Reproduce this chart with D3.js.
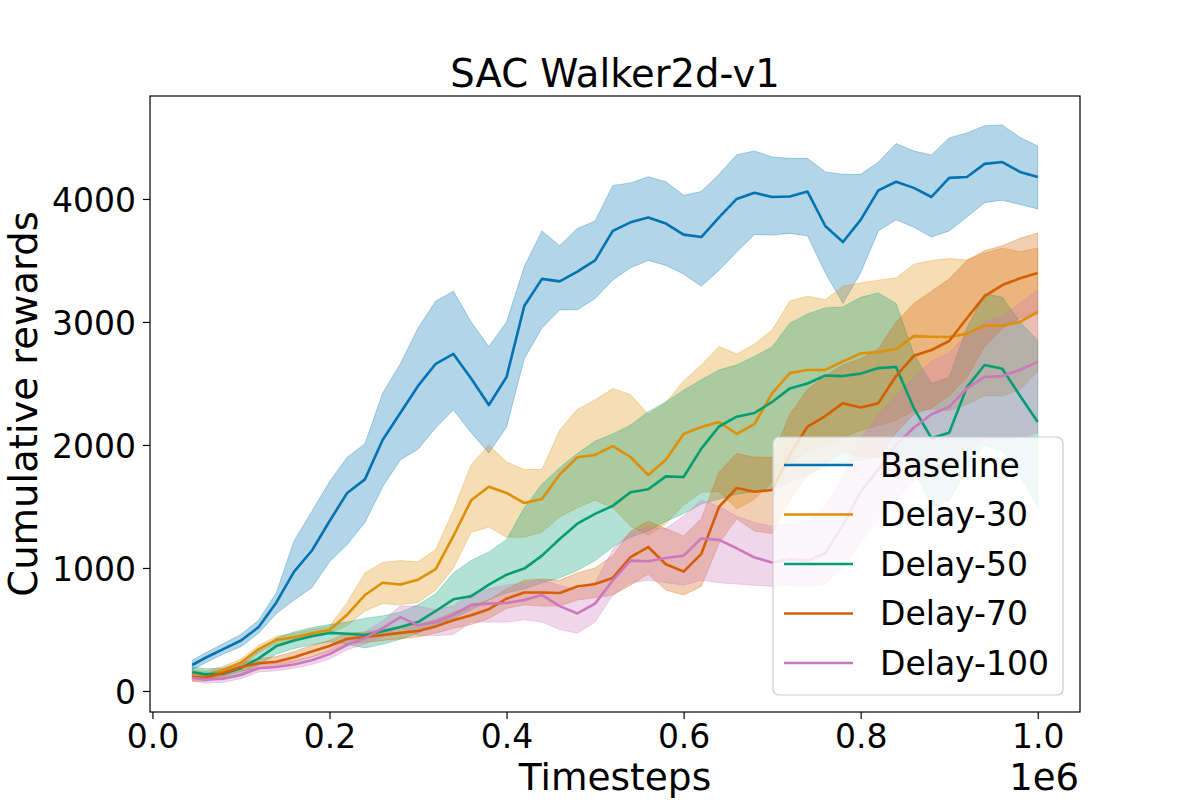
<!DOCTYPE html>
<html><head><meta charset="utf-8">
<script src="https://cdnjs.cloudflare.com/ajax/libs/d3/7.8.5/d3.min.js"></script>
<style>body{margin:0;background:#fff} svg{display:block} text{font-family:"DejaVu Sans",sans-serif;fill:#000}</style>
</head><body><svg id="chart" width="1200" height="800"></svg>
<script>
// x values in units of 1e6 timesteps
const timesteps = [0.045,0.06,0.08,0.10,0.12,0.14,0.16,0.18,0.20,0.22,0.24,0.26,0.28,0.30,0.32,0.34,0.36,0.38,0.40,0.42,0.44,0.46,0.48,0.50,0.52,0.54,0.56,0.58,0.60,0.62,0.64,0.66,0.68,0.70,0.72,0.74,0.76,0.78,0.80,0.82,0.84,0.86,0.88,0.90,0.92,0.94,0.96,0.98,1.00];

const seriesNames = ["Baseline","Delay-30","Delay-50","Delay-70","Delay-100"];
const seriesColors = ["#0173b2","#de8f05","#029e73","#d55e00","#cc78bc"];

const baselineMean = [211,270,340,410,520,720,970,1140,1380,1610,1720,2040,2260,2480,2660,2740,2540,2325,2553,3130,3350,3330,3410,3500,3740,3810,3850,3800,3710,3690,3850,4000,4050,4016,4020,4060,3780,3650,3830,4070,4140,4090,4016,4171,4179,4285,4300,4220,4179];
const baselineLow = [170,230,300,360,470,630,740,840,1050,1190,1370,1660,1878,1965,2140,2285,2100,1935,2146,2700,2950,3098,3100,3190,3341,3440,3500,3460,3390,3290,3420,3570,3710,3707,3720,3700,3400,3150,3400,3740,3830,3770,3691,3740,3854,3970,3990,3955,3919];
const baselineHigh = [250,310,385,460,575,800,1220,1460,1700,1900,2010,2420,2660,2950,3170,3250,3000,2800,3000,3450,3740,3620,3760,3820,4110,4130,4180,4140,4030,4060,4200,4360,4390,4341,4330,4330,4220,4200,4200,4300,4450,4390,4358,4496,4537,4595,4602,4500,4431];

const delay30Mean = [146,125,165,232,340,415,437,468,495,620,780,880,865,905,990,1260,1550,1660,1610,1528,1560,1760,1900,1919,1990,1902,1756,1880,2090,2146,2187,2090,2170,2420,2585,2610,2610,2680,2745,2755,2780,2885,2880,2878,2905,2970,2970,3000,3081];
const delay30Low = [114,95,130,200,310,385,405,440,470,530,650,710,700,720,820,1000,1290,1333,1250,1250,1290,1415,1490,1550,1490,1340,1265,1360,1510,1615,1620,1480,1560,1700,1850,1950,2000,2060,2120,2160,2200,2280,2290,2280,2330,2400,2400,2450,2600];
const delay30High = [175,160,200,260,370,445,470,500,525,720,960,1045,1060,1050,1150,1470,1840,2000,1862,1800,1800,2120,2290,2366,2460,2410,2250,2345,2520,2650,2800,2740,2820,2935,3170,3210,3180,3290,3317,3340,3358,3470,3500,3515,3504,3560,3600,3570,3600];

const delay50Mean = [154,135,140,185,265,365,410,445,472,465,455,485,520,560,650,745,770,865,945,995,1100,1235,1360,1440,1505,1615,1640,1745,1740,1970,2150,2230,2260,2350,2460,2500,2565,2560,2580,2625,2634,2300,2055,2100,2470,2650,2620,2400,2187];
const delay50Low = [115,95,100,140,210,300,345,375,400,380,350,380,420,470,540,590,660,740,797,830,880,920,980,1060,1170,1250,1300,1380,1440,1520,1560,1600,1620,1640,1700,1760,1820,1850,1880,1900,1950,1800,1500,1550,1800,2000,1950,1750,1500];
const delay50High = [195,180,185,235,325,430,480,515,540,560,590,610,640,700,790,960,1060,1130,1230,1490,1680,1815,1930,2030,2090,2160,2270,2350,2445,2530,2610,2650,2720,2797,2990,3065,3114,3122,3200,3236,3150,2740,2500,2550,2950,3230,3200,3000,2850];

const delay70Mean = [114,108,146,195,225,238,275,320,365,425,439,455,472,488,525,575,615,665,750,800,800,797,850,870,919,1089,1170,1030,970,1115,1496,1650,1620,1634,1920,2150,2235,2340,2305,2340,2560,2725,2772,2845,3030,3210,3300,3355,3398];
const delay70Low = [80,80,115,160,190,200,235,275,320,380,395,410,425,440,470,510,540,590,670,700,690,690,740,760,780,860,950,820,780,850,1200,1400,1300,1280,1550,1750,1850,1950,1900,1900,2100,2250,2300,2400,2550,2800,2950,3030,3070];
const delay70High = [150,140,180,230,260,280,320,370,410,470,480,500,520,540,580,640,690,740,830,900,910,900,960,1000,1100,1300,1380,1320,1260,1400,1780,1930,1900,1900,2250,2450,2560,2650,2700,2780,3000,3150,3250,3350,3500,3580,3620,3680,3723];

const delay100Mean = [106,92,100,130,185,195,215,250,300,375,430,510,600,535,560,620,700,710,715,740,780,690,630,710,900,1060,1055,1081,1100,1240,1228,1160,1085,1045,1070,1060,1120,1350,1620,1800,2000,2140,2250,2309,2460,2553,2560,2610,2675];
const delay100Low = [80,65,70,100,155,165,185,215,260,335,380,440,520,450,450,460,560,560,560,580,560,500,470,560,780,880,900,880,860,900,880,870,860,850,860,850,870,1000,1200,1400,1550,1700,1800,1850,1950,2050,2050,2050,2100];
const delay100High = [130,120,130,165,215,225,245,280,335,415,480,570,690,690,660,690,790,830,860,880,900,860,820,880,1150,1290,1330,1320,1420,1553,1500,1420,1370,1340,1360,1380,1500,1750,2050,2250,2400,2550,2680,2750,2900,3000,3050,3150,3260];

const xTickValues = [0.0,0.2,0.4,0.6,0.8,1.0];
const yTickValues = [0,1000,2000,3000,4000];
const titleText = "SAC Walker2d-v1";
const xLabelText = "Timesteps";
const yLabelText = "Cumulative rewards";
const offsetText = "1e6";

const seriesMeans = [baselineMean, delay30Mean, delay50Mean, delay70Mean, delay100Mean];
const seriesLows = [baselineLow, delay30Low, delay50Low, delay70Low, delay100Low];
const seriesHighs = [baselineHigh, delay30High, delay50High, delay70High, delay100High];

const L = 150, R = 1080, T = 96, B = 712;
const svg = d3.select("#chart");
const x = d3.scaleLinear().domain([-0.00275, 1.04775]).range([L, R]);
const y = d3.scaleLinear().domain([-171, 4837]).range([B, T]);

svg.append("defs").append("clipPath").attr("id","plotclip")
  .append("rect").attr("x",L).attr("y",T).attr("width",R-L).attr("height",B-T);

const plot = svg.append("g").attr("clip-path","url(#plotclip)");

const series = seriesNames.map((name,i)=>({
  name, color: seriesColors[i],
  pts: timesteps.map((t,j)=>({t, m: seriesMeans[i][j], lo: seriesLows[i][j], hi: seriesHighs[i][j]}))
}));

const area = d3.area().x(d=>x(d.t)).y0(d=>y(d.lo)).y1(d=>y(d.hi));
const line = d3.line().x(d=>x(d.t)).y(d=>y(d.m));

series.forEach(s=>{
  plot.append("path").attr("d", area(s.pts))
    .attr("fill", s.color).attr("fill-opacity", 0.3)
    .attr("stroke", s.color).attr("stroke-opacity", 0.3).attr("stroke-width", 1);
});
series.forEach(s=>{
  plot.append("path").attr("d", line(s.pts))
    .attr("fill","none").attr("stroke", s.color).attr("stroke-width", 2.6)
    .attr("stroke-linejoin","round");
});

// axes
const xAxis = d3.axisBottom(x).tickValues(xTickValues).tickFormat(d3.format(".1f")).tickSize(7).tickPadding(5.5);
const gx = svg.append("g").attr("transform",`translate(0,${B})`).call(xAxis);
gx.select(".domain").remove();
gx.selectAll("line").attr("stroke","#000").attr("stroke-width",1.2);
gx.selectAll("text").attr("font-size",33).attr("font-family","DejaVu Sans").attr("fill","#000");

const yAxis = d3.axisLeft(y).tickValues(yTickValues).tickFormat(d3.format("d")).tickSize(7).tickPadding(7);
const gy = svg.append("g").attr("transform",`translate(${L},0)`).call(yAxis);
gy.select(".domain").remove();
gy.selectAll("line").attr("stroke","#000").attr("stroke-width",1.2);
gy.selectAll("text").attr("font-size",33).attr("font-family","DejaVu Sans").attr("fill","#000").attr("dy","0.37em");

// frame
svg.append("rect").attr("x",L).attr("y",T).attr("width",R-L).attr("height",B-T)
  .attr("fill","none").attr("stroke","#000").attr("stroke-width",1.2);

// titles
svg.append("text").attr("x",(L+R)/2).attr("y",87).attr("text-anchor","middle").attr("font-size",38.5).text(titleText);
svg.append("text").attr("x",(L+R)/2).attr("y",790).attr("text-anchor","middle").attr("font-size",37.5).text(xLabelText);
svg.append("text").attr("transform",`translate(37,${(T+B)/2}) rotate(-90)`).attr("text-anchor","middle").attr("font-size",38.5).text(yLabelText);
svg.append("text").attr("x",1079).attr("y",790).attr("text-anchor","end").attr("font-size",37).text(offsetText);

// legend
const lg = svg.append("g");
lg.append("rect").attr("x",773).attr("y",437).attr("width",290).attr("height",258).attr("rx",6)
  .attr("fill","#fff").attr("fill-opacity",0.8).attr("stroke","#cccccc").attr("stroke-width",1.2);
const rowY = d3.scaleLinear().domain([0,4]).range([465,663]);
series.forEach((s,i)=>{
  const yy = rowY(i);
  lg.append("line").attr("x1",784).attr("x2",853).attr("y1",yy).attr("y2",yy)
    .attr("stroke",s.color).attr("stroke-width",2.6);
  lg.append("text").attr("x",880).attr("y",yy+11.5).attr("font-size",33).text(s.name);
});
</script></body></html>
